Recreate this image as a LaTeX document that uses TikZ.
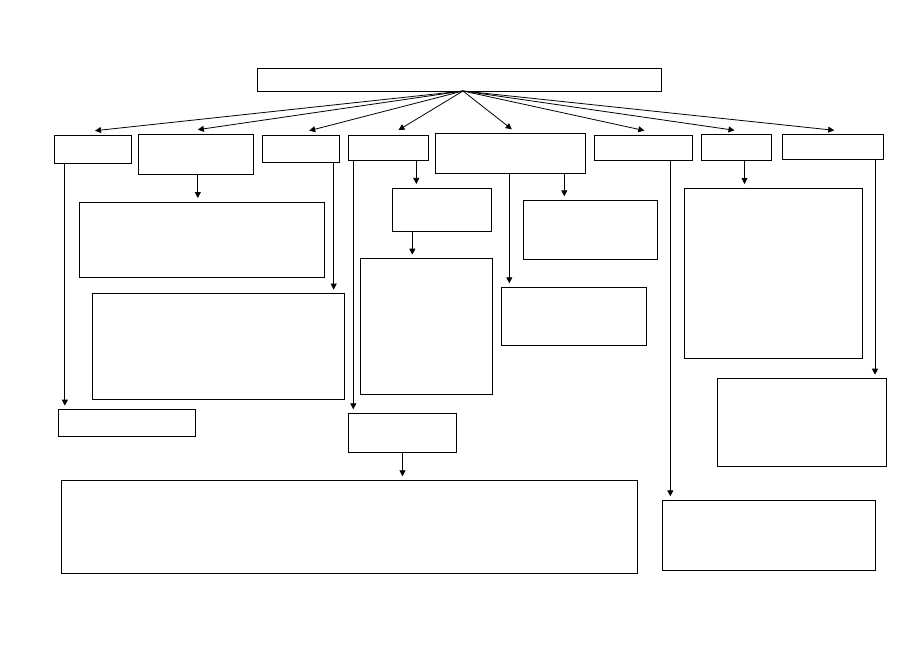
\documentclass[tikz,border=0pt]{standalone}
\usepackage{tikz}
\usetikzlibrary{arrows.meta}

\begin{document}
\begin{tikzpicture}[x=1pt,y=-1pt,
		box/.style={draw, line width=0.8pt, inner sep=0pt, outer sep=0pt},
		link/.style={line width=0.8pt, -{Triangle[length=6pt,width=6pt]}},
		drop/.style={link, shorten >=4pt}]
			\useasboundingbox (0,0) rectangle (919,650);
			\node[box, minimum width=404pt, minimum height=23pt] (top) at (459,79.5) {}; % Top box
			\coordinate (hub) at ([xshift=4pt]top.south);
			% first row
			\node[box, minimum width=76.3pt, minimum height=28pt] (b1) at (93,149.7) {};
			\node[box, minimum width=115.7pt, minimum height=39.6pt] (b2) at (195.8,154.5) {};
			\node[box, minimum width=77pt, minimum height=27pt] (b3) at (301.2,149.2) {};
			\node[box, minimum width=79.6pt, minimum height=25.3pt] (b4) at (388.5,147.7) {};
			\node[box, minimum width=150pt, minimum height=40pt] (b5) at (510.3,153.3) {};
			\node[box, minimum width=98pt, minimum height=25.3pt] (b6) at (643.3,147.7) {};
			\node[box, minimum width=69.6pt, minimum height=26pt] (b7) at (736.5,147.3) {};
			\node[box, minimum width=101pt, minimum height=25pt] (b8) at (833.2,146.8) {};
			% lower boxes
			\node[box, minimum width=245pt, minimum height=75.3pt] (c2) at (201.8,239.7) {};
			\node[box, minimum width=252.4pt, minimum height=105.3pt] (c3) at (218.5,346.3) {};
			\node[box, minimum width=137pt, minimum height=26.3pt] (d1) at (127.2,422.8) {};
			\node[box, minimum width=98.7pt, minimum height=43.7pt] (c4a) at (441.7,209.8) {};
			\node[box, minimum width=132pt, minimum height=135.6pt] (c4b) at (426.7,326.5) {};
			\node[box, minimum width=107.6pt, minimum height=39.4pt] (d4) at (402.5,433) {};
			\node[box, minimum width=575.7pt, minimum height=93.4pt] (e) at (349.2,527) {};
			\node[box, minimum width=145pt, minimum height=58pt] (c5a) at (573.5,316.3) {};
			\node[box, minimum width=134.3pt, minimum height=59pt] (c5b) at (590.2,229.8) {};
			\node[box, minimum width=213.3pt, minimum height=70.4pt] (d6) at (768.7,535.5) {};
			\node[box, minimum width=178pt, minimum height=170.3pt] (c7) at (773.3,273.2) {};
			\node[box, minimum width=169pt, minimum height=88pt] (d8) at (801.5,422.7) {};
			% fan out from the top box
			\draw[link] (hub) -- ([xshift=2pt,yshift=5pt]b1.north);
			\draw[link] (hub) -- ([xshift=2pt,yshift=5pt]b2.north);
			\draw[link] (hub) -- ([xshift=8pt,yshift=5pt]b3.north);
			\draw[link] (hub) -- ([xshift=10pt,yshift=5pt]b4.north);
			\draw[link] (hub) -- ([xshift=1.5pt,yshift=4pt]b5.north);
			\draw[link] (hub) -- ([xshift=1pt,yshift=4.5pt]b6.north);
			\draw[link] (hub) -- ([xshift=-2pt,yshift=4pt]b7.north);
			\draw[link] (hub) -- ([xshift=1pt,yshift=4pt]b8.north);
			% downward links
			\draw[drop] ([xshift=10pt]b1.south west) -- ([xshift=10pt]b1.south west |- d1.north);
			\draw[drop] ([xshift=2pt]b2.south) -- ([xshift=2pt]b2.south |- c2.north);
			\draw[drop] ([xshift=-6pt]b3.south east) -- ([xshift=-6pt]b3.south east |- c3.north);
			\draw[drop] ([xshift=-12pt]b4.south east) -- ([xshift=-12pt]b4.south east |- c4a.north);
			\draw[drop] ([xshift=20pt]c4a.south west) -- ([xshift=20pt]c4a.south west |- c4b.north);
			\draw[drop] ([xshift=4.6pt]b4.south west) -- ([xshift=4.6pt]b4.south west |- d4.north);
			\draw[drop] (d4.south) -- (d4.south |- e.north);
			\draw[drop] ([xshift=-1pt]b5.south) -- ([xshift=-1pt]b5.south |- c5a.north);
			\draw[drop] ([xshift=-21pt]b5.south east) -- ([xshift=-21pt]b5.south east |- c5b.north);
			\draw[drop] ([xshift=-22pt]b6.south east) -- ([xshift=-22pt]b6.south east |- d6.north);
			\draw[drop] ([xshift=8pt]b7.south) -- ([xshift=8pt]b7.south |- c7.north);
			\draw[drop] ([xshift=-8.7pt]b8.south east) -- ([xshift=-8.7pt]b8.south east |- d8.north);
		\end{tikzpicture}
\end{document}
